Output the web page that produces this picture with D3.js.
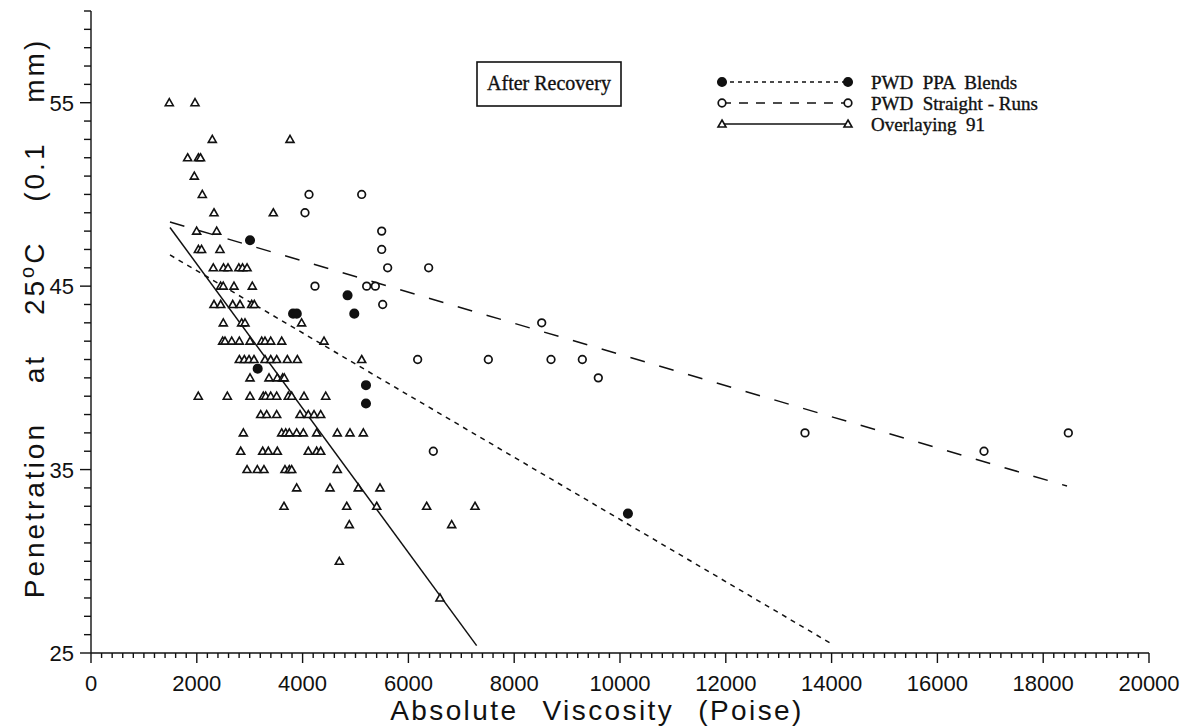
<!DOCTYPE html>
<html lang="en">
<head>
<meta charset="UTF-8">
<title>Penetration vs Absolute Viscosity</title>
<script src="https://d3js.org/d3.v7.min.js"></script>
<style>
  body { margin: 0; background: #fff; }
  svg { display: block; }
  .tick-label { font-family: "Liberation Sans", Arial, sans-serif; font-size: 22px; fill: #111; }
  .axis-title { font-family: "Liberation Sans", Arial, sans-serif; font-size: 28px; fill: #111; letter-spacing: 2.4px; }
  .legend-text { font-family: "Liberation Serif", "Times New Roman", serif; font-size: 19px; fill: #111; stroke: #111; stroke-width: 0.35px; }
</style>
</head>
<body>
<svg id="chart" width="1201" height="726"></svg>
<script>
// values: [viscosity (poise), penetration (0.1 mm)]
const blendsPoints = [
  [3006, 47.5], [3820, 43.5], [3890, 43.5], [4850, 44.5], [4977, 43.5],
  [3151, 40.5], [5198, 39.6], [5198, 38.6], [10150, 32.6]
];

const straightPoints = [
  [4121, 50], [5117, 50], [4045, 49], [5495, 48], [5495, 47], [5608, 46], [6383, 46],
  [4234, 45], [5211, 45], [5375, 45], [5514, 44], [8520, 43], [6175, 41], [7511, 41],
  [8696, 41], [9288, 41], [9590, 40], [6471, 36], [13497, 37], [16881, 36], [18475, 37]
];

const overlayPoints = [
  [1480, 55], [1966, 55],
  [2293, 53], [3762, 53],
  [1827, 52], [2030, 52], [2070, 52],
  [1953, 51], [2104, 50],
  [2325, 49], [3446, 49],
  [1997, 48], [2376, 48],
  [2030, 47], [2090, 47], [2438, 47],
  [2312, 46], [2505, 46], [2590, 46], [2795, 46], [2865, 46], [2950, 46],
  [2450, 45], [2500, 45], [2703, 45], [3049, 45],
  [2325, 44], [2452, 44], [2679, 44], [2817, 44], [3038, 44], [3087, 44],
  [2501, 43], [2848, 43], [2911, 43], [3981, 43],
  [2489, 42], [2533, 42], [2660, 42], [2804, 42], [3006, 42], [3227, 42], [3289, 42],
  [3397, 42], [3605, 42], [4405, 42],
  [2804, 41], [2898, 41], [2987, 41], [3081, 41], [3289, 41], [3397, 41], [3510, 41],
  [3711, 41], [3900, 41], [5117, 41],
  [3006, 40], [3365, 40], [3522, 40], [3623, 40], [3654, 40],
  [2028, 39], [2577, 39], [3006, 39], [3257, 39], [3302, 39], [3397, 39], [3510, 39],
  [3730, 39], [3794, 39], [4027, 39], [4437, 39],
  [3208, 38], [3321, 38], [3510, 38], [3951, 38], [4108, 38], [4216, 38], [4342, 38],
  [2880, 37], [3605, 37], [3681, 37], [3749, 37], [3888, 37], [4014, 37], [4266, 37],
  [4656, 37], [4896, 37], [5148, 37],
  [2830, 36], [3246, 36], [3352, 36], [3522, 36], [4108, 36], [4266, 36], [4342, 36],
  [2950, 35], [3144, 35], [3270, 35], [3667, 35], [3749, 35], [3794, 35], [4656, 35],
  [3888, 34], [4518, 34], [5053, 34], [5463, 34],
  [3648, 33], [4834, 33], [5401, 33], [6345, 33], [7259, 33],
  [4883, 32], [6818, 32],
  [4694, 30], [6597, 28]
];

// fitted lines, end points as drawn
const blendsFit = [[1493, 46.7], [14000, 25.5]];
const straightFit = [[1493, 48.5], [18450, 34.1]];
const overlayFit = [[1493, 48.2], [7290, 25.4]];

const xLabelTicks = d3.range(0, 20001, 2000);
const xMinorTicks = d3.range(0, 20001, 200);
const yLabelTicks = [25, 35, 45, 55];
const yMinorTicks = d3.range(25, 61, 1);

const legendItems = [
  { name: "PWD  PPA  Blends", type: "blends" },
  { name: "PWD  Straight - Runs", type: "straight" },
  { name: "Overlaying  91", type: "overlay" }
];

const svg = d3.select("#chart");
const ink = "#111";

const x = d3.scaleLinear().domain([0, 20000]).range([91, 1149]);
const y = d3.scaleLinear().domain([25, 60]).range([653, 11]);

const dashes = { blends: "5,5", straight: "15,15", overlay: null };

// ---- axes
const axes = svg.append("g").attr("stroke", ink).attr("stroke-width", 1.4);

axes.append("line")
  .attr("x1", x(0)).attr("x2", x(20000))
  .attr("y1", y(25)).attr("y2", y(25));
axes.append("line")
  .attr("x1", x(0)).attr("x2", x(0))
  .attr("y1", y(25)).attr("y2", y(60));

axes.selectAll(".xtick")
  .data(xMinorTicks)
  .join("line")
  .attr("x1", d => x(d)).attr("x2", d => x(d))
  .attr("y1", y(25))
  .attr("y2", d => y(25) + (d % 2000 === 0 ? 10 : 5));

axes.selectAll(".ytick")
  .data(yMinorTicks)
  .join("line")
  .attr("y1", d => y(d)).attr("y2", d => y(d))
  .attr("x1", x(0))
  .attr("x2", d => x(0) - (yLabelTicks.includes(d) ? 11 : 7));

svg.selectAll(".xlab")
  .data(xLabelTicks)
  .join("text")
  .attr("class", "tick-label")
  .attr("x", d => x(d))
  .attr("y", 691)
  .attr("text-anchor", "middle")
  .text(d => d);

svg.selectAll(".ylab")
  .data(yLabelTicks)
  .join("text")
  .attr("class", "tick-label")
  .attr("x", 74)
  .attr("y", d => y(d) + 8)
  .attr("text-anchor", "end")
  .text(d => d);

svg.append("text")
  .attr("class", "axis-title")
  .attr("x", 597).attr("y", 720)
  .attr("text-anchor", "middle")
  .attr("word-spacing", 14)
  .text("Absolute Viscosity (Poise)");

const yTitle = svg.append("text")
  .attr("class", "axis-title")
  .attr("transform", "translate(44,318) rotate(-90)")
  .attr("text-anchor", "middle")
  .style("letter-spacing", "3px")
  .attr("word-spacing", 28);
yTitle.append("tspan").text("Penetration at 25");
yTitle.append("tspan").attr("dy", -10).attr("font-size", 20).text("o");
yTitle.append("tspan").attr("dy", 10).text("C (0.1 mm)");

// ---- markers
function drawMarker(g, type) {
  if (type === "overlay") {
    g.append("path")
      .attr("d", "M0,-4L4,3L-4,3Z")
      .attr("fill", "#fff").attr("stroke", ink).attr("stroke-width", 1.6);
  } else {
    g.append("circle")
      .attr("r", type === "blends" ? 4.2 : 3.8)
      .attr("fill", type === "blends" ? ink : "#fff")
      .attr("stroke", ink).attr("stroke-width", 1.7);
  }
}

// ---- fitted lines
const line = d3.line().x(d => x(d[0])).y(d => y(d[1]));
[[blendsFit, "blends"], [straightFit, "straight"], [overlayFit, "overlay"]].forEach(([pts, type]) => {
  svg.append("path")
    .attr("d", line(pts))
    .attr("fill", "none")
    .attr("stroke", ink)
    .attr("stroke-width", 1.5)
    .attr("stroke-dasharray", dashes[type]);
});

// ---- points
[[overlayPoints, "overlay"], [straightPoints, "straight"], [blendsPoints, "blends"]].forEach(([pts, type]) => {
  svg.append("g").selectAll("g")
    .data(pts)
    .join("g")
    .attr("transform", d => `translate(${x(d[0])},${y(d[1])})`)
    .each(function () { drawMarker(d3.select(this), type); });
});

// ---- annotation box
svg.append("rect")
  .attr("x", 477).attr("y", 62).attr("width", 144).attr("height", 44)
  .attr("fill", "none").attr("stroke", ink).attr("stroke-width", 1.6);
svg.append("text")
  .attr("class", "legend-text")
  .attr("x", 549).attr("y", 90)
  .attr("text-anchor", "middle")
  .style("font-size", "20px")
  .text("After Recovery");

// ---- legend
const legend = svg.append("g").attr("transform", "translate(722,82)");
legendItems.forEach((item, i) => {
  const row = legend.append("g").attr("transform", `translate(0,${i * 21})`);
  row.append("line")
    .attr("x1", 0).attr("x2", 126)
    .attr("stroke", ink).attr("stroke-width", 1.5)
    .attr("stroke-dasharray", item.type === "blends" ? "4,4" : item.type === "straight" ? "9,8" : null);
  drawMarker(row.append("g"), item.type);
  drawMarker(row.append("g").attr("transform", "translate(126,0)"), item.type);
  row.append("text")
    .attr("class", "legend-text")
    .attr("x", 149).attr("y", 6.5)
    .attr("xml:space", "preserve")
    .text(item.name);
});
</script>
</body>
</html>
